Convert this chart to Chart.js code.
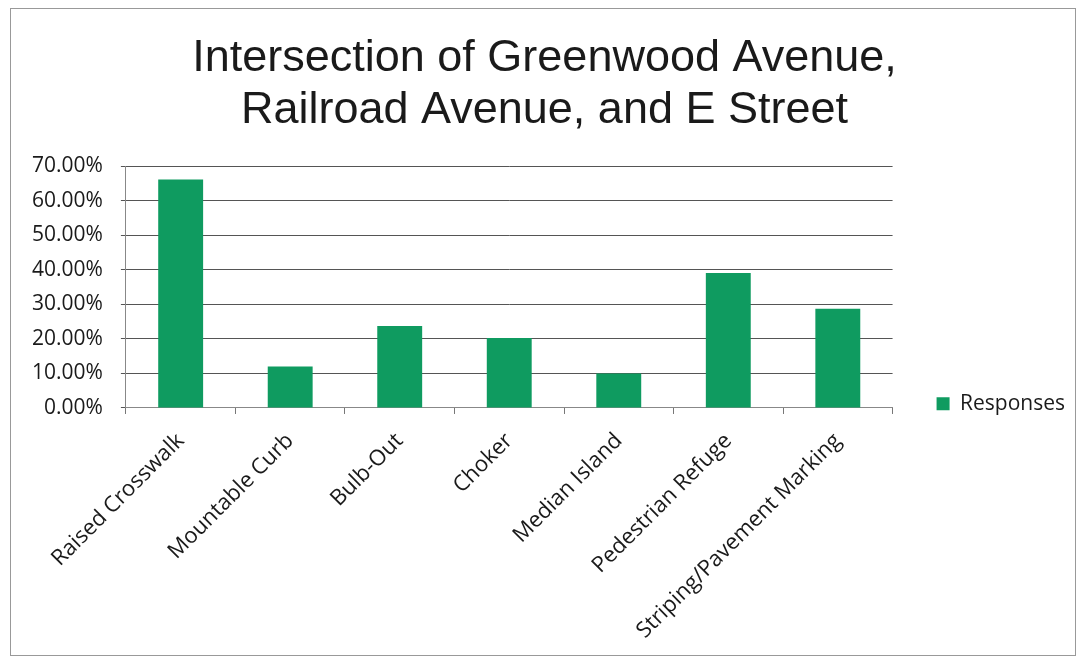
<!DOCTYPE html>
<html>
<head>
<meta charset="utf-8">
<script src="https://cdn.jsdelivr.net/npm/chart.js@4"></script>
<style>
  body { margin: 0; background: #fff; }
  #wrap {
    position: absolute; left: 10px; top: 8px;
    width: 1064px; height: 646px;
    border: 1px solid #999;
  }
</style>
</head>
<body>
<div id="wrap"><canvas id="chart"></canvas></div>
<script>
const categories = ['Raised Crosswalk', 'Mountable Curb', 'Bulb-Out', 'Choker',
  'Median Island', 'Pedestrian Refuge', 'Striping/Pavement Marking'];
const responses = [66.2, 12.0, 23.8, 20.3, 10.0, 39.1, 28.8];
const titleLines = ['Intersection of Greenwood Avenue,', 'Railroad Avenue, and E Street'];

const labelFont = "'Open Sans', 'Noto Sans', sans-serif";

new Chart(document.getElementById('chart').getContext('2d'), {
  type: 'bar',
  data: {
    labels: categories,
    datasets: [{
      label: 'Responses',
      data: responses,
      backgroundColor: '#0f9b60',
      borderWidth: 0,
      categoryPercentage: 1,
      barPercentage: 0.41
    }]
  },
  options: {
    responsive: true,
    maintainAspectRatio: false,
    animation: false,
    layout: { padding: { left: 3, right: 0, top: 10, bottom: -3 } },
    plugins: {
      title: {
        display: true,
        text: titleLines,
        color: '#1a1a1a',
        font: { family: "'Liberation Sans', Arial, sans-serif", size: 45, weight: 'normal', lineHeight: 1.15 },
        padding: { top: 14, bottom: 30 }
      },
      legend: {
        position: 'right',
        align: 'center',
        // blank title only pushes the single entry down to the axis level
        title: { display: true, text: ' ', font: { size: 12 }, padding: { top: 0, bottom: 116 } },
        labels: {
          boxWidth: 13, boxHeight: 13,
          padding: 44,
          color: '#1a1a1a',
          font: { family: labelFont, size: 21 }
        }
      },
      tooltip: { enabled: false }
    },
    scales: {
      x: {
        grid: { offset: true, drawOnChartArea: false, color: '#777', tickLength: 6 },
        border: { color: '#888' },
        ticks: {
          minRotation: 45, maxRotation: 45,
          padding: 14,
          color: '#1a1a1a',
          font: { family: labelFont, size: 22 }
        }
      },
      y: {
        min: 0, max: 70,
        grid: { color: '#555', tickLength: 5, lineWidth: 1 },
        border: { color: '#888' },
        ticks: {
          stepSize: 10,
          padding: 18,
          color: '#1a1a1a',
          font: { family: labelFont, size: 21 },
          callback: v => v.toFixed(2) + '%'
        }
      }
    }
  }
});
</script>
</body>
</html>
